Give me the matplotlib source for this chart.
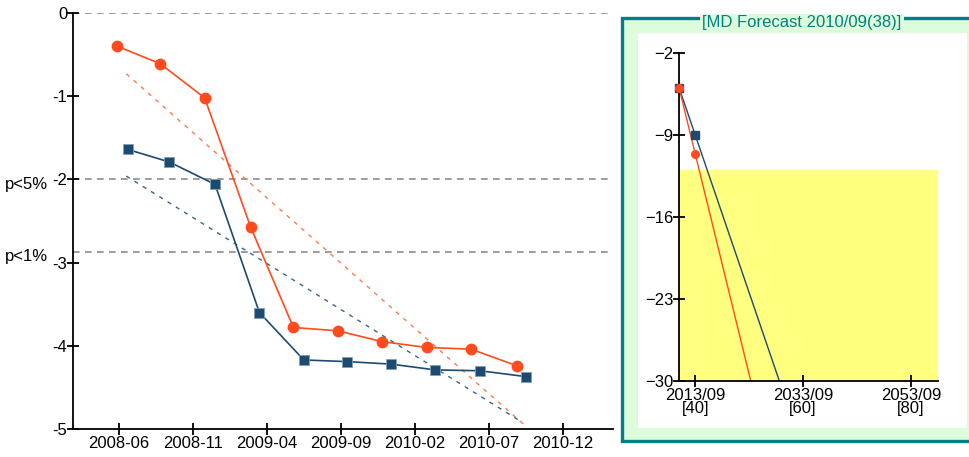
import numpy as np
import matplotlib.pyplot as plt
from matplotlib.patches import Rectangle

plt.rcParams['font.family'] = ['Liberation Sans Narrow', 'Liberation Sans', 'DejaVu Sans']
plt.rcParams['font.size'] = 12

# main chart: x is months counted from 2008-01 (0)
x_ticks = [5, 10, 15, 20, 25, 30, 35]
x_tick_labels = ['2008-06', '2008-11', '2009-04', '2009-09', '2010-02', '2010-07', '2010-12']
y_ticks = [0, -1, -2, -3, -4, -5]
y_tick_labels = ['0', '-1', '-2', '-3', '-4', '-5']

orange_x = [4.9, 7.8, 10.8, 13.9, 16.8, 19.8, 22.8, 25.8, 28.8, 31.9]
orange_y = [-0.40, -0.61, -1.02, -2.57, -3.78, -3.82, -3.95, -4.02, -4.04, -4.24]
blue_x = [5.6, 8.4, 11.5, 14.5, 17.5, 20.4, 23.4, 26.4, 29.4, 32.5]
blue_y = [-1.64, -1.79, -2.06, -3.60, -4.17, -4.19, -4.22, -4.29, -4.30, -4.37]

orange_trend_x = [5.5, 32.4]
orange_trend_y = [-0.73, -4.95]
blue_trend_x = [5.5, 32.0]
blue_trend_y = [-1.96, -4.89]

ref_levels = [0, -2.0, -2.87]
ref_labels = ['', 'p<5%', 'p<1%']

# forecast panel
fc_title = '[MD Forecast 2010/09(38)]'
fc_x_ticks = [40, 60, 80]
fc_x_labels = ['2013/09\n[40]', '2033/09\n[60]', '2053/09\n[80]']
fc_y_ticks = [-2, -9, -16, -23, -30]
fc_orange_x = [37, 40]
fc_orange_y = [-4.95, -10.6]
fc_blue_x = [37, 40]
fc_blue_y = [-4.95, -9.0]
fc_orange_line_x = [37, 50.3]
fc_orange_line_y = [-4.95, -30]
fc_blue_line_x = [37, 55.6]
fc_blue_line_y = [-4.95, -30]
zone_y = [-30, -12]

ORANGE = '#ff4b1e'
BLUE = '#1c4a70'
TEAL = '#008080'

fig = plt.figure(figsize=(9.7, 4.57), dpi=100)

# ---- main chart
ax = fig.add_axes([73/970, 1-429/457, 540/970, 416/457])
for lv in ref_levels:
    ax.axhline(lv, color='#8c8c8c', lw=1.2, ls=(0, (4, 3.2)), zorder=1)
for lv, lb in zip(ref_levels, ref_labels):
    if lb:
        ax.annotate(lb, xy=(0, lv), xycoords=('axes fraction', 'data'),
                    xytext=(-25, -5), textcoords='offset pixels',
                    ha='right', va='center')

ax.plot(orange_trend_x, orange_trend_y, color='#ff7a50', lw=1.0, ls=(0, (3, 4)), zorder=2)
ax.plot(blue_trend_x, blue_trend_y, color='#33658e', lw=1.0, ls=(0, (3, 4)), zorder=2)
ax.plot(orange_x, orange_y, color=ORANGE, lw=1.2, marker='o', ms=7.5, zorder=3)
ax.plot(blue_x, blue_y, color=BLUE, lw=1.2, marker='s', ms=7.5,
        mec='#7f9fb8', mew=0.6, zorder=3)

ax.set_xlim(1.9, 38.4)
ax.set_ylim(-5, 0)
ax.set_xticks(x_ticks, x_tick_labels)
ax.set_yticks(y_ticks, y_tick_labels)
for s in ['top', 'right']:
    ax.spines[s].set_visible(False)
for s in ['left', 'bottom']:
    ax.spines[s].set_linewidth(1.3)
ax.tick_params(axis='both', direction='inout', length=8, width=1.3)
ax.tick_params(axis='y', pad=0)
ax.tick_params(axis='x', pad=1)

# ---- forecast panel frame
fig.add_artist(Rectangle((622/970, 1-441/457), 0.5, 423/457, transform=fig.transFigure,
                         facecolor='#dcfcdc', edgecolor=TEAL, lw=2.4, zorder=-5))
fig.add_artist(Rectangle((638/970, 1-428/457), 329/970, 395/457, transform=fig.transFigure,
                         facecolor='white', edgecolor='none', zorder=-4))
fig.text(802/970, 1-23/457, fc_title, color=TEAL, ha='center', va='center',
         bbox=dict(facecolor='#dcfcdc', edgecolor='none', pad=1.5))

ax2 = fig.add_axes([679/970, 1-381/457, 259/970, 328/457])
ax2.axhspan(zone_y[0], zone_y[1], color='#ffff80', zorder=0)
ax2.plot(fc_blue_line_x, fc_blue_line_y, color=BLUE, lw=1.0, zorder=2)
ax2.plot(fc_orange_line_x, fc_orange_line_y, color=ORANGE, lw=1.0, zorder=2)
ax2.plot(fc_blue_x, fc_blue_y, ls='none', color=BLUE, marker='s', ms=5.5, zorder=3, clip_on=False)
ax2.plot(fc_orange_x, fc_orange_y, ls='none', color=ORANGE, marker='o', ms=5.5, zorder=4, clip_on=False)
ax2.set_xlim(37, 85)
ax2.set_ylim(-30, -2)
ax2.set_xticks(fc_x_ticks, fc_x_labels, linespacing=0.8)
ax2.set_yticks(fc_y_ticks)
for s in ['top', 'right']:
    ax2.spines[s].set_visible(False)
for s in ['left', 'bottom']:
    ax2.spines[s].set_linewidth(1.3)
ax2.tick_params(axis='both', direction='inout', length=8, width=1.3)
ax2.tick_params(axis='y', pad=0)
ax2.tick_params(axis='x', pad=1)

fig.savefig('out.png', dpi=100)
